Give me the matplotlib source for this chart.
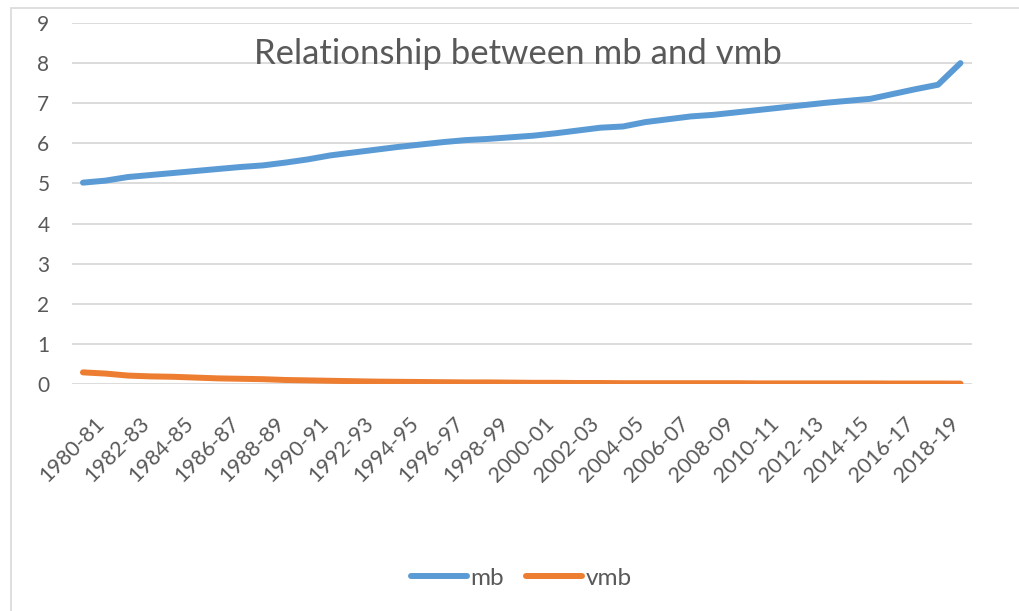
import matplotlib
matplotlib.use('Agg')
import matplotlib.pyplot as plt
from matplotlib.transforms import ScaledTranslation
from matplotlib.patches import Rectangle
import numpy as np

# financial years 1980-81 .. 2019-20
years = ['%d-%02d' % (y, (y + 1) % 100) for y in range(1980, 2020)]

mb = [5.02, 5.07, 5.16, 5.21, 5.26, 5.31, 5.36, 5.41, 5.45, 5.52,
      5.60, 5.70, 5.77, 5.84, 5.91, 5.97, 6.03, 6.08, 6.11, 6.15,
      6.19, 6.25, 6.32, 6.39, 6.42, 6.53, 6.60, 6.67, 6.71, 6.77,
      6.83, 6.89, 6.95, 7.01, 7.06, 7.11, 7.23, 7.35, 7.46, 8.00]

vmb = [0.29, 0.26, 0.21, 0.19, 0.18, 0.16, 0.14, 0.13, 0.12, 0.10,
       0.09, 0.08, 0.07, 0.06, 0.055, 0.05, 0.045, 0.04, 0.04, 0.035,
       0.03, 0.03, 0.025, 0.025, 0.02, 0.02, 0.02, 0.02, 0.02, 0.02,
       0.015, 0.015, 0.015, 0.015, 0.015, 0.015, 0.012, 0.012, 0.012, 0.01]

yticks = list(range(0, 10))

textColor = '#595959'
gridColor = '#D9D9D9'
plt.rcParams['font.family'] = ['Lato', 'DejaVu Sans']

W, H = 1019, 611
fig = plt.figure(figsize=(W / 100, H / 100), dpi=100)
ax = fig.add_axes([71.7 / W, 1 - 384 / H, 900 / W, (384 - 23) / H])

x = np.arange(len(years))
ax.plot(x, mb, color='#5B9BD5', lw=4.3, solid_capstyle='round',
        solid_joinstyle='round', label='mb', zorder=3)
ax.plot(x, vmb, color='#ED7D31', lw=4.3, solid_capstyle='round',
        solid_joinstyle='round', label='vmb', zorder=3)

ax.set_xlim(-0.5, len(years) - 0.5)
ax.set_ylim(0, 9)
ax.set_yticks(yticks)
ax.set_yticklabels([str(t) for t in yticks])
ax.set_xticks(x[::2])
ax.set_xticklabels(years[::2])

for s in ax.spines.values():
  s.set_visible(False)
ax.grid(axis='y', color=gridColor, lw=1.3)
ax.set_axisbelow(True)
ax.tick_params(axis='both', length=0, colors=textColor)
ax.tick_params(axis='y', pad=16, labelsize=15)
ax.tick_params(axis='x', pad=26, labelsize=15.5)

offset = ScaledTranslation(18 / 100, 0, fig.dpi_scale_trans)
for lab in ax.get_xticklabels():
  lab.set_rotation(45)
  lab.set_ha('right')
  lab.set_va('center')
  lab.set_rotation_mode('anchor')
  lab.set_transform(lab.get_transform() + offset)

fig.text(518 / W, 1 - 64.5 / H, 'Relationship between mb and vmb',
         ha='center', va='baseline', fontsize=25, color=textColor)

leg = fig.legend(loc='center', bbox_to_anchor=(521 / W, 1 - 578 / H), ncol=2,
                 frameon=False, fontsize=17.5, handlelength=2.3,
                 columnspacing=0.9, handletextpad=0.15)
for t in leg.get_texts():
  t.set_color(textColor)

# chart area border
fig.patches.append(Rectangle((11 / W, -0.1), 1.1, 1 - 8 / H + 0.1,
                             transform=fig.transFigure, fill=False,
                             edgecolor=gridColor, lw=1.2))

fig.savefig('out.png', dpi=100)
